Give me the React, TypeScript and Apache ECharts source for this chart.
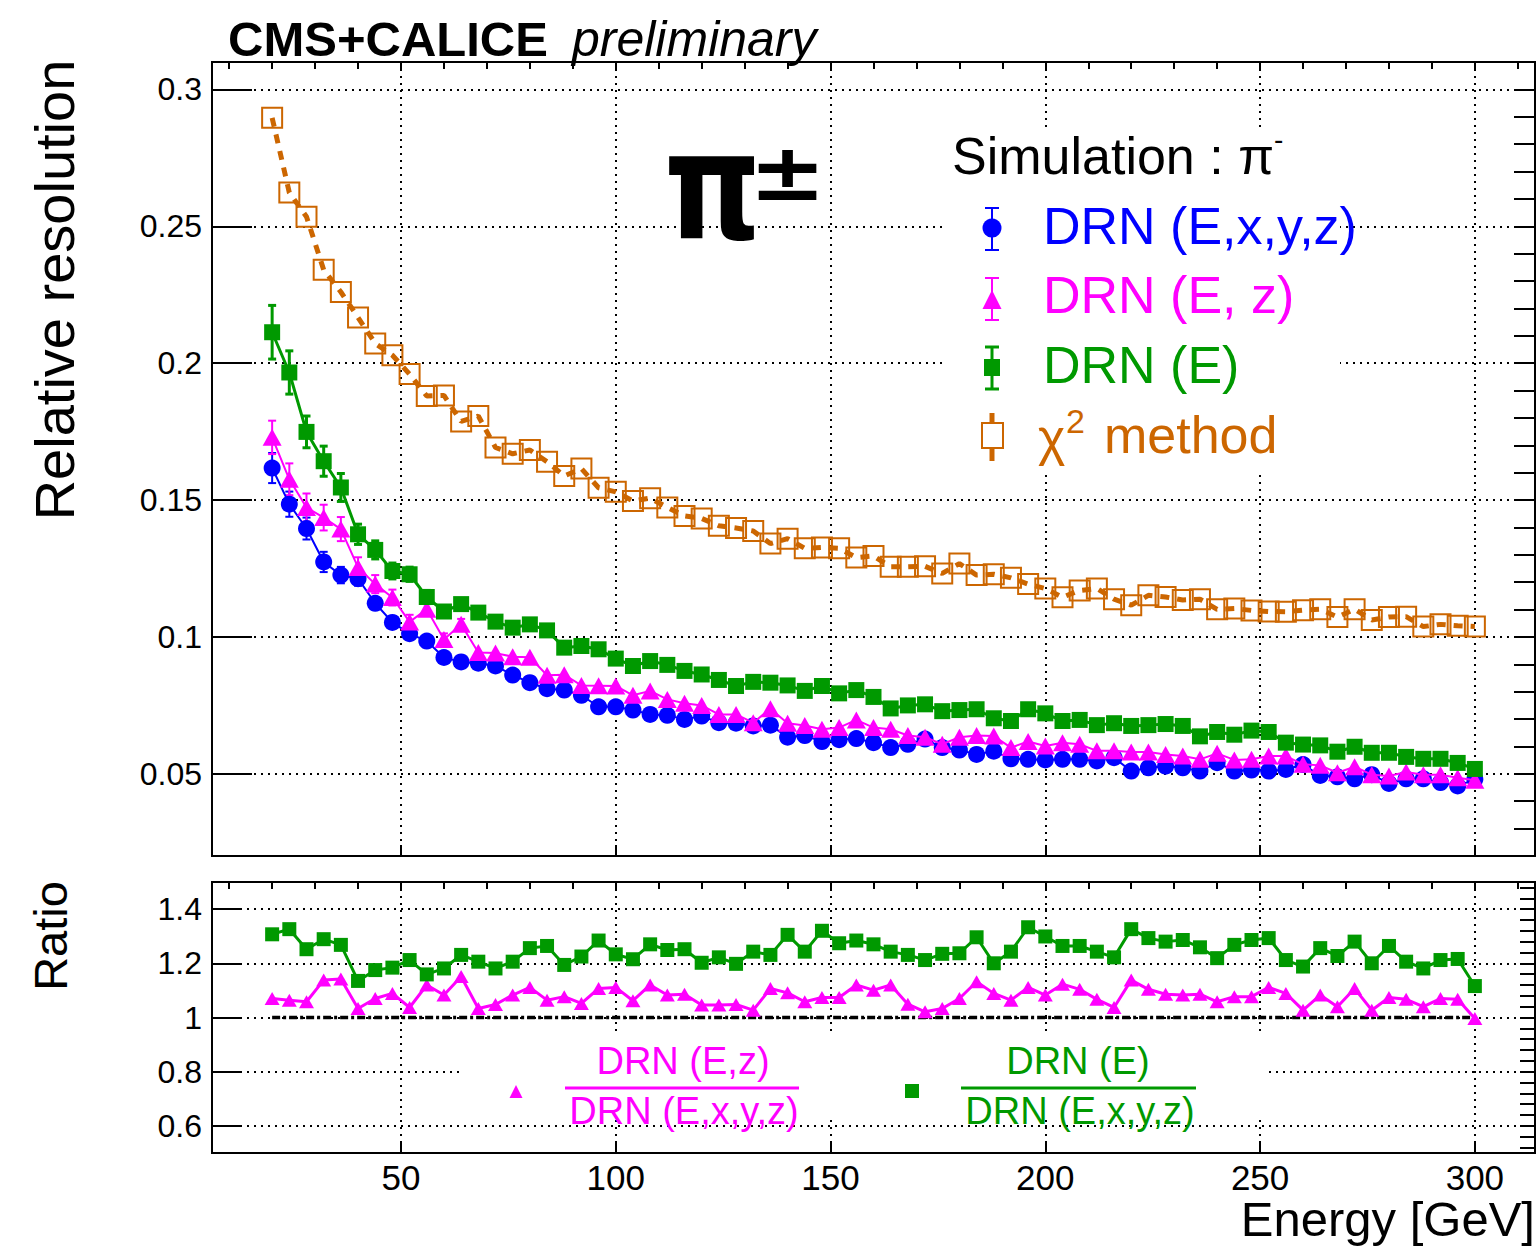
import React, { useEffect, useRef } from "react";
import * as echarts from "echarts";

// Beam energies [GeV]
const energies = [
  20, 24, 28, 32, 36, 40, 44, 48, 52, 56, 60, 64, 68, 72, 76, 80, 84, 88, 92, 96,
  100, 104, 108, 112, 116, 120, 124, 128, 132, 136, 140, 144, 148, 152, 156, 160,
  164, 168, 172, 176, 180, 184, 188, 192, 196, 200, 204, 208, 212, 216, 220, 224,
  228, 232, 236, 240, 244, 248, 252, 256, 260, 264, 268, 272, 276, 280, 284, 288,
  292, 296, 300,
];

// Relative resolution, chi2 method
const resChi2 = [
  0.2896, 0.2623, 0.2535, 0.2341, 0.226, 0.2167, 0.2072, 0.2029, 0.196, 0.188,
  0.1882, 0.1787, 0.1807, 0.1692, 0.1669, 0.1683, 0.164, 0.1588, 0.1615, 0.1545,
  0.153, 0.1497, 0.1507, 0.1473, 0.1442, 0.1433, 0.1406, 0.1398, 0.1387, 0.1341,
  0.1359, 0.1324, 0.1327, 0.1324, 0.129, 0.1296, 0.1256, 0.1256, 0.1258, 0.1232,
  0.1268, 0.1226, 0.1229, 0.1216, 0.1193, 0.1177, 0.1145, 0.117, 0.1177, 0.1138,
  0.1116, 0.1152, 0.1146, 0.1135, 0.1138, 0.1101, 0.1104, 0.1097, 0.1093, 0.1092,
  0.1098, 0.1101, 0.1073, 0.1101, 0.1062, 0.1073, 0.1074, 0.1038, 0.1046, 0.1041,
  0.1038,
];

// Relative resolution, DRN (E,x,y,z)
const resDrnExyz = [
  0.1617, 0.1485, 0.1396, 0.1274, 0.1226, 0.1213, 0.1123, 0.1053, 0.1012, 0.0985,
  0.0925, 0.0909, 0.0904, 0.0894, 0.0861, 0.0833, 0.0811, 0.0806, 0.0787, 0.0745,
  0.0745, 0.0733, 0.0717, 0.0714, 0.0699, 0.0711, 0.0687, 0.0685, 0.0675, 0.0678,
  0.0634, 0.064, 0.0618, 0.0625, 0.0629, 0.0614, 0.0596, 0.0608, 0.0627, 0.0596,
  0.0587, 0.0571, 0.0583, 0.0555, 0.0553, 0.0551, 0.0553, 0.0553, 0.0547, 0.0559,
  0.051, 0.0522, 0.0528, 0.0522, 0.051, 0.0541, 0.051, 0.0514, 0.051, 0.0516,
  0.0534, 0.0494, 0.0489, 0.0482, 0.0497, 0.0465, 0.0482, 0.0482, 0.0468, 0.0456,
  0.048,
];

// Relative resolution, DRN (E, z)
const resDrnEz = [
  0.1729, 0.1576, 0.1473, 0.1436, 0.1394, 0.1254, 0.1193, 0.1144, 0.1055, 0.1101,
  0.0991, 0.1046, 0.0943, 0.0941, 0.0928, 0.0926, 0.086, 0.0862, 0.0823, 0.0822,
  0.0821, 0.0787, 0.0803, 0.0772, 0.0758, 0.075, 0.0717, 0.0717, 0.0687, 0.0738,
  0.0685, 0.0677, 0.0663, 0.0669, 0.0697, 0.0669, 0.0663, 0.064, 0.0634, 0.0608,
  0.0634, 0.064, 0.0638, 0.0596, 0.0618, 0.0602, 0.0614, 0.0608, 0.0584, 0.0584,
  0.058, 0.058, 0.0571, 0.0565, 0.0553, 0.0575, 0.0551, 0.0553, 0.0565, 0.0565,
  0.0535, 0.0531, 0.0504, 0.0526, 0.0497, 0.0492, 0.0507, 0.0497, 0.0497, 0.0486,
  0.0477,
];

// Relative resolution, DRN (E)
const resDrnE = [
  0.2113, 0.1966, 0.1749, 0.1642, 0.1546, 0.1375, 0.1318, 0.1241, 0.1229, 0.1146,
  0.1093, 0.112, 0.1089, 0.1056, 0.1034, 0.1046, 0.1024, 0.0961, 0.0967, 0.0955,
  0.0921, 0.0894, 0.0912, 0.0898, 0.0876, 0.0863, 0.0843, 0.0821, 0.0836, 0.0833,
  0.0823, 0.0803, 0.0821, 0.0794, 0.0806, 0.0781, 0.0739, 0.075, 0.0754, 0.0729,
  0.0733, 0.0736, 0.0703, 0.0693, 0.0736, 0.0721, 0.0693, 0.0697, 0.0678, 0.0685,
  0.0675, 0.0678, 0.0682, 0.0675, 0.0637, 0.0653, 0.0643, 0.0658, 0.0653, 0.0614,
  0.0607, 0.0604, 0.0581, 0.0599, 0.0577, 0.0577, 0.0562, 0.0555, 0.0555, 0.054,
  0.0518,
];

// Statistical uncertainties of the lowest-energy points
const errDrnExyz = [0.0055, 0.0046, 0.004, 0.0037, 0.003, 0.0026, 0.0022, 0.002, 0.0018, 0.0016, 0.0015, 0.0014];
const errDrnEz = [0.0061, 0.0058, 0.0051, 0.0047, 0.0044, 0.0037, 0.0033, 0.0029, 0.0026, 0.0024, 0.0022, 0.002];
const errDrnE = [0.0098, 0.0079, 0.0058, 0.0055, 0.0051, 0.0037, 0.0033, 0.0029, 0.0026, 0.0024, 0.0022, 0.002];

// Ratio DRN (E,z) / DRN (E,x,y,z)
const ratioEz = [
  1.07, 1.064, 1.058, 1.138, 1.142, 1.033, 1.07, 1.089, 1.037, 1.12,
  1.083, 1.151, 1.033, 1.048, 1.083, 1.111, 1.064, 1.077, 1.052, 1.107,
  1.111, 1.062, 1.12, 1.083, 1.086, 1.046, 1.046, 1.048, 1.027, 1.107,
  1.091, 1.058, 1.074, 1.074, 1.12, 1.101, 1.12, 1.049, 1.021, 1.033,
  1.07, 1.132, 1.089, 1.064, 1.111, 1.083, 1.123, 1.104, 1.067, 1.037,
  1.138, 1.104, 1.086, 1.083, 1.086, 1.058, 1.077, 1.077, 1.111, 1.089,
  1.027, 1.083, 1.04, 1.107, 1.027, 1.074, 1.067, 1.04, 1.07, 1.067,
  0.996,
];

// Ratio DRN (E) / DRN (E,x,y,z)
const ratioE = [
  1.307, 1.326, 1.252, 1.289, 1.268, 1.135, 1.175, 1.184, 1.212, 1.159,
  1.181, 1.231, 1.206, 1.181, 1.206, 1.256, 1.264, 1.194, 1.225, 1.284,
  1.233, 1.215, 1.27, 1.249, 1.252, 1.202, 1.222, 1.198, 1.243, 1.231,
  1.305, 1.243, 1.32, 1.274, 1.284, 1.27, 1.243, 1.231, 1.212, 1.235,
  1.237, 1.296, 1.2, 1.243, 1.333, 1.299, 1.264, 1.264, 1.243, 1.222,
  1.326, 1.293, 1.28, 1.286, 1.259, 1.219, 1.268, 1.286, 1.293, 1.212,
  1.188, 1.256, 1.227, 1.28, 1.2, 1.264, 1.206, 1.181, 1.212, 1.216,
  1.116,
];

// Unity reference line of the ratio panel
const unityLine = [
  [20, 1],
  [300, 1],
];

// Axis ticks
const xMajorTicks = [50, 100, 150, 200, 250, 300];
const xMinorTicks = [
  10, 20, 30, 40, 50, 60, 70, 80, 90, 100, 110, 120, 130, 140, 150, 160,
  170, 180, 190, 200, 210, 220, 230, 240, 250, 260, 270, 280, 290, 300, 310,
];
const resMajorTicks = [0.05, 0.1, 0.15, 0.2, 0.25, 0.3];
const resMinorTicks = [
  0.02, 0.03, 0.04, 0.05, 0.06, 0.07, 0.08, 0.09, 0.1, 0.11, 0.12, 0.13, 0.14, 0.15, 0.16,
  0.17, 0.18, 0.19, 0.2, 0.21, 0.22, 0.23, 0.24, 0.25, 0.26, 0.27, 0.28, 0.29, 0.3, 0.31,
];
const ratioMajorTicks = [0.6, 0.8, 1, 1.2, 1.4];
const ratioMinorTicks = [
  0.52, 0.56, 0.6, 0.64, 0.68, 0.72, 0.76, 0.8, 0.84, 0.88, 0.92, 0.96, 1, 1.04,
  1.08, 1.12, 1.16, 1.2, 1.24, 1.28, 1.32, 1.36, 1.4, 1.44, 1.48,
];

const FONT = '"Liberation Sans", Arial, Helvetica, sans-serif';
const BLUE = "#0000ff";
const MAGENTA = "#ff00ff";
const GREEN = "#009900";
const ORANGE = "#cc6600";
const BLACK = "#000000";
const DOTTED = { color: BLACK, width: 2, type: [2, 5] as number[] };

function pairs(values: number[]) {
  return values.map((v, i) => [energies[i], v]);
}

function errorBars(values: number[], errors: number[], color: string, width: number) {
  return {
    type: "custom",
    xAxisIndex: 0,
    yAxisIndex: 0,
    z: 2,
    silent: true,
    data: errors.map((e, i) => [energies[i], values[i], e]),
    encode: { x: 0, y: 1 },
    renderItem: (_params: any, api: any) => {
      const x = api.value(0);
      const y = api.value(1);
      const e = api.value(2);
      const hi = api.coord([x, y + e]);
      const lo = api.coord([x, y - e]);
      const half = 4;
      const st = { stroke: color, lineWidth: width };
      return {
        type: "group",
        children: [
          { type: "line", shape: { x1: hi[0], y1: hi[1], x2: lo[0], y2: lo[1] }, style: st },
          { type: "line", shape: { x1: hi[0] - half, y1: hi[1], x2: hi[0] + half, y2: hi[1] }, style: st },
          { type: "line", shape: { x1: lo[0] - half, y1: lo[1], x2: lo[0] + half, y2: lo[1] }, style: st },
        ],
      };
    },
  };
}

function valueAxis(
  gridIndex: number,
  min: number,
  max: number,
  ticks: number[],
  tickLen: number,
  opts: { labels?: boolean; split?: boolean; digits?: number; labelMargin?: number; labelSize?: number }
) {
  return {
    type: "value",
    gridIndex,
    min,
    max,
    axisLine: { show: false },
    axisTick: {
      show: true,
      inside: true,
      length: tickLen,
      customValues: ticks,
      lineStyle: { color: BLACK, width: 2 },
    },
    axisLabel: opts.labels
      ? {
          show: true,
          customValues: ticks,
          color: BLACK,
          fontFamily: FONT,
          fontSize: opts.labelSize ?? 32,
          margin: opts.labelMargin ?? 10,
          formatter: (v: number) => String(+v.toFixed(opts.digits ?? 2)),
        }
      : { show: false },
    splitLine: opts.split ? { show: true, lineStyle: DOTTED } : { show: false },
    minorTick: { show: false },
  };
}

function txt(
  text: string,
  x: number,
  y: number,
  size: number,
  fill: string,
  extra: Record<string, any> = {},
  styleExtra: Record<string, any> = {}
) {
  return {
    type: "text",
    x,
    y,
    z: 20,
    silent: true,
    ...extra,
    style: {
      text,
      fill,
      fontFamily: FONT,
      fontSize: size,
      align: "left",
      verticalAlign: "middle",
      ...styleExtra,
    },
  };
}

function vline(x: number, y1: number, y2: number, color: string, w: number) {
  return { type: "line", z: 20, silent: true, shape: { x1: x, y1, x2: x, y2 }, style: { stroke: color, lineWidth: w } };
}
function hline(x1: number, x2: number, y: number, color: string, w: number) {
  return { type: "line", z: 20, silent: true, shape: { x1, y1: y, x2, y2: y }, style: { stroke: color, lineWidth: w } };
}

export default function App() {
  const ref = useRef<HTMLDivElement>(null);

  useEffect(() => {
    if (!ref.current) return;
    const chart = echarts.init(ref.current, undefined, { renderer: "svg" });

    const graphics: any[] = [
      // legend backgrounds
      { type: "rect", z: 1, silent: true, shape: { x: 942, y: 128, width: 398, height: 342 }, style: { fill: "#ffffff" } },
      { type: "rect", z: 1, silent: true, shape: { x: 464, y: 1036, width: 802, height: 82 }, style: { fill: "#ffffff" } },

      // header
      txt("CMS+CALICE", 228, 39, 49, BLACK, {}, { fontWeight: "bold" }),
      txt("preliminary", 572, 39, 50, BLACK, {}, { fontStyle: "italic" }),

      // particle label
      txt("π", 664, 186, 150, BLACK, { scaleX: 0.82 }, { fontWeight: "bold", fontFamily: '"DejaVu Sans", sans-serif' }),
      txt("±", 749, 172, 80, BLACK, { scaleX: 1.15 }, { fontWeight: "bold", fontFamily: '"DejaVu Sans", sans-serif' }),

      // axis titles
      txt("Relative resolution", 54, 290, 56, BLACK, { rotation: Math.PI / 2 }, { align: "center" }),
      txt("Ratio", 50, 936, 47, BLACK, { rotation: Math.PI / 2 }, { align: "center" }),
      txt("Energy [GeV]", 1535, 1219, 49, BLACK, {}, { align: "right" }),

      // legend (upper panel)
      txt("Simulation : π", 952, 156, 52, BLACK),
      txt("-", 1274, 139, 28, BLACK),

      vline(992, 208, 250, BLUE, 2),
      hline(985, 999, 208, BLUE, 2),
      hline(985, 999, 250, BLUE, 2),
      { type: "circle", z: 20, silent: true, shape: { cx: 992, cy: 228, r: 9.5 }, style: { fill: BLUE } },
      txt("DRN (E,x,y,z)", 1043, 226, 52, BLUE),

      vline(992, 278, 320, MAGENTA, 2),
      hline(985, 999, 278, MAGENTA, 2),
      hline(985, 999, 320, MAGENTA, 2),
      { type: "polygon", z: 20, silent: true, shape: { points: [[992, 290], [982.5, 309], [1001.5, 309]] }, style: { fill: MAGENTA } },
      txt("DRN (E, z)", 1043, 295, 52, MAGENTA),

      vline(992, 347, 389, GREEN, 3),
      hline(985, 999, 347, GREEN, 3),
      hline(985, 999, 389, GREEN, 3),
      { type: "rect", z: 20, silent: true, shape: { x: 984, y: 359, width: 16, height: 17 }, style: { fill: GREEN } },
      txt("DRN (E)", 1043, 365, 52, GREEN),

      vline(992, 413, 423, ORANGE, 5),
      vline(992, 448, 461, ORANGE, 5),
      { type: "rect", z: 20, silent: true, shape: { x: 982, y: 423, width: 21, height: 25 }, style: { fill: "none", stroke: ORANGE, lineWidth: 2 } },
      txt("χ", 1038, 437, 52, ORANGE),
      txt("2", 1066, 421, 34, ORANGE),
      txt("method", 1104, 435, 52, ORANGE),

      // legend (ratio panel)
      { type: "polygon", z: 20, silent: true, shape: { points: [[516, 1085], [509.5, 1098], [522.5, 1098]] }, style: { fill: MAGENTA } },
      txt("DRN (E,z)", 683, 1061, 38, MAGENTA, {}, { align: "center" }),
      hline(565, 799, 1088, MAGENTA, 3),
      txt("DRN (E,x,y,z)", 684, 1111, 38, MAGENTA, {}, { align: "center" }),

      { type: "rect", z: 20, silent: true, shape: { x: 905, y: 1084, width: 14, height: 14 }, style: { fill: GREEN } },
      txt("DRN (E)", 1078, 1061, 38, GREEN, {}, { align: "center" }),
      hline(961, 1196, 1088, GREEN, 3),
      txt("DRN (E,x,y,z)", 1080, 1111, 38, GREEN, {}, { align: "center" }),
    ];

    const option: any = {
      animation: false,
      backgroundColor: "#ffffff",
      grid: [
        { left: 212, top: 62, width: 1323, height: 794, show: true, borderColor: BLACK, borderWidth: 2, backgroundColor: "transparent" },
        { left: 212, top: 882, width: 1323, height: 271, show: true, borderColor: BLACK, borderWidth: 2, backgroundColor: "transparent" },
      ],
      xAxis: [
        valueAxis(0, 6, 314, xMajorTicks, 11, { split: true }),
        valueAxis(0, 6, 314, xMinorTicks, 7, {}),
        valueAxis(1, 6, 314, xMajorTicks, 12, { split: true, labels: true, digits: 0, labelMargin: 7, labelSize: 35 }),
        valueAxis(1, 6, 314, xMinorTicks, 7, {}),
      ],
      yAxis: [
        valueAxis(0, 0.02, 0.31, resMajorTicks, 40, { split: true, labels: true, digits: 3 }),
        valueAxis(0, 0.02, 0.31, resMinorTicks, 21, {}),
        valueAxis(1, 0.5, 1.5, ratioMajorTicks, 28, { split: true, labels: true, digits: 2 }),
        valueAxis(1, 0.5, 1.5, ratioMinorTicks, 15, {}),
      ],
      graphic: { elements: graphics },
      series: [
        errorBars(resDrnExyz, errDrnExyz, BLUE, 2),
        errorBars(resDrnEz, errDrnEz, MAGENTA, 2),
        errorBars(resDrnE, errDrnE, GREEN, 3),
        {
          type: "line",
          name: "DRN (E,x,y,z)",
          xAxisIndex: 0,
          yAxisIndex: 0,
          z: 3,
          data: pairs(resDrnExyz),
          symbol: "circle",
          symbolSize: 17,
          showAllSymbol: true,
          lineStyle: { color: BLUE, width: 2 },
          itemStyle: { color: BLUE },
          silent: true,
        },
        {
          type: "line",
          name: "DRN (E, z)",
          xAxisIndex: 0,
          yAxisIndex: 0,
          z: 4,
          data: pairs(resDrnEz),
          symbol: "triangle",
          symbolSize: [19, 17],
          showAllSymbol: true,
          lineStyle: { color: MAGENTA, width: 2 },
          itemStyle: { color: MAGENTA },
          silent: true,
        },
        {
          type: "line",
          name: "DRN (E)",
          xAxisIndex: 0,
          yAxisIndex: 0,
          z: 4,
          data: pairs(resDrnE),
          symbol: "rect",
          symbolSize: 16,
          showAllSymbol: true,
          lineStyle: { color: GREEN, width: 3 },
          itemStyle: { color: GREEN },
          silent: true,
        },
        {
          type: "line",
          name: "chi2 method",
          xAxisIndex: 0,
          yAxisIndex: 0,
          z: 4,
          data: pairs(resChi2),
          symbol: "rect",
          symbolSize: 20,
          showAllSymbol: true,
          lineStyle: { color: ORANGE, width: 5, type: [9, 8] },
          itemStyle: { color: "rgba(0,0,0,0)", borderColor: ORANGE, borderWidth: 2 },
          silent: true,
        },
        {
          type: "line",
          name: "unity",
          xAxisIndex: 2,
          yAxisIndex: 2,
          z: 3,
          data: unityLine,
          symbol: "none",
          lineStyle: { color: BLACK, width: 3.5, type: [8, 3, 3, 3] },
          silent: true,
        },
        {
          type: "line",
          name: "ratio E,z",
          xAxisIndex: 2,
          yAxisIndex: 2,
          z: 4,
          data: pairs(ratioEz),
          symbol: "triangle",
          symbolSize: [15, 13],
          showAllSymbol: true,
          lineStyle: { color: MAGENTA, width: 3 },
          itemStyle: { color: MAGENTA },
          silent: true,
        },
        {
          type: "line",
          name: "ratio E",
          xAxisIndex: 2,
          yAxisIndex: 2,
          z: 4,
          data: pairs(ratioE),
          symbol: "rect",
          symbolSize: 14,
          showAllSymbol: true,
          lineStyle: { color: GREEN, width: 3 },
          itemStyle: { color: GREEN },
          silent: true,
        },
      ],
    };

    chart.setOption(option);
    return () => chart.dispose();
  }, []);

  return (
    <div
      ref={ref}
      style={{ position: "absolute", left: 0, top: 0, width: 1537, height: 1248, background: "#fff" }}
    />
  );
}
